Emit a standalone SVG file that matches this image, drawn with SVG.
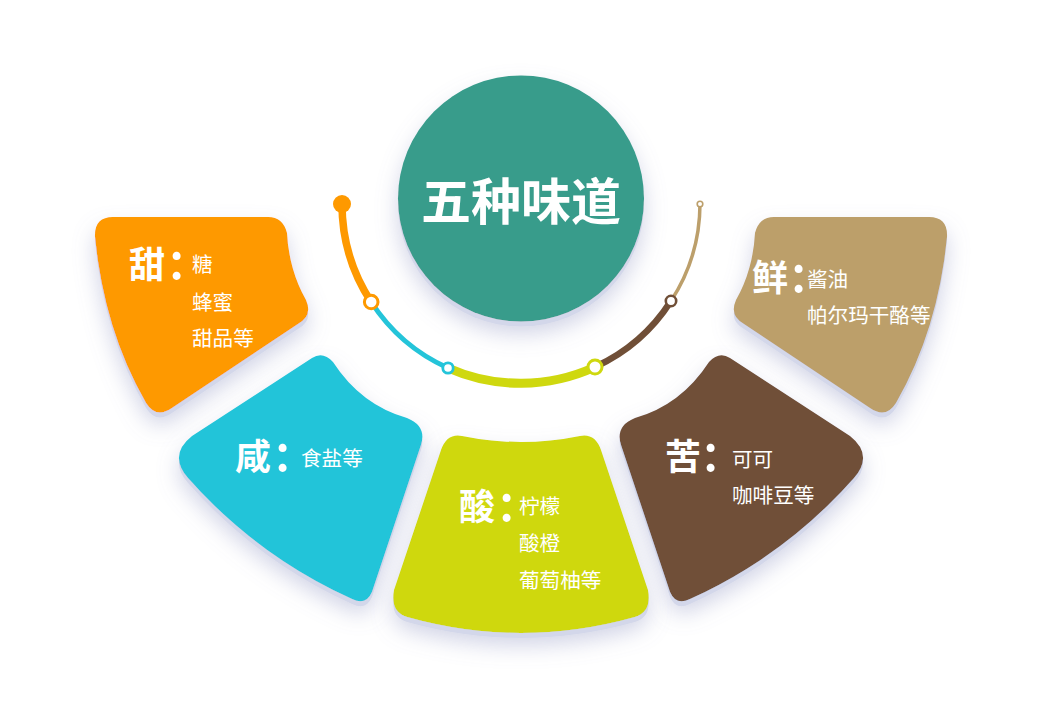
<svg xmlns="http://www.w3.org/2000/svg" width="1042" height="720" viewBox="0 0 1042 720">
<defs>
<filter id="sh" x="-30%" y="-30%" width="160%" height="170%">
<feGaussianBlur in="SourceAlpha" stdDeviation="11" result="b"/>
<feOffset in="b" dx="0" dy="12" result="bo"/>
<feFlood flood-color="#7d84b8" flood-opacity="0.36"/>
<feComposite in2="bo" operator="in" result="soft"/>
<feOffset in="SourceAlpha" dx="0" dy="4.5" result="r"/>
<feFlood flood-color="#d3d7ea"/>
<feComposite in2="r" operator="in" result="rim"/>
<feMerge><feMergeNode in="soft"/><feMergeNode in="rim"/><feMergeNode in="SourceGraphic"/></feMerge>
</filter>
<style>
text{font-family:"Noto Sans CJK SC",sans-serif;fill:#fff}
.big{font-size:36px;font-weight:bold}
.col{font-size:51px;font-weight:500}
.sm{font-size:20.6px;font-weight:normal}
.title{font-size:50px;font-weight:bold}
.ring{fill:#fff}
</style>
</defs>
<rect width="1042" height="720" fill="#fff"/>

<g id="node-sweet" filter="url(#sh)">
<path d="M113,217 L268,217 Q283,217 287,233 Q289,270 306,300 Q313,316 298,324 L172,408 Q156,419 146,403 Q104,330 95,237 Q94,217 113,217 Z" fill="#FE9900"/>
</g>
<g id="node-umami" filter="url(#sh)">
<path d="M929,217 L774,217 Q759,217 755,233 Q753,270 736,300 Q729,316 744,324 L870,408 Q886,419 896,403 Q938,330 947,237 Q948,217 929,217 Z" fill="#BC9F6B"/>
</g>
<g id="node-salty" filter="url(#sh)">
<path d="M333,362 Q361,405 407,418 Q427,426 421,445 L372,592 Q366,606 352,599 Q257,556 188,478 Q168,455 192,436 L312,358 Q323,351 333,362 Z" fill="#24C4D9"/>
</g>
<g id="node-bitter" filter="url(#sh)">
<path d="M709,362 Q681,405 635,418 Q615,426 621,445 L670,592 Q676,606 690,599 Q785,556 854,478 Q874,455 850,436 L730,358 Q719,351 709,362 Z" fill="#704F37"/>
</g>
<g id="node-sour" filter="url(#sh)">
<path d="M462,436 Q521,448 580,436 Q595,433 601,450 L648,590 Q652,612 635,617 Q521,649 407,617 Q390,612 394,590 L441,450 Q447,433 462,436 Z" fill="#CFD80F"/>
</g>

<g id="node-center">
<circle cx="521" cy="198.5" r="123" fill="#379C8B" filter="url(#sh)"/>
<text class="title" x="521" y="219.5" text-anchor="middle">五种味道</text>
</g>

<g id="connectors" fill="none">
<path d="M342,204 A179,179 0 0 0 371.2,302" stroke="#FE9900" stroke-width="7.5"/>
<path d="M371.2,302 A179,179 0 0 0 448,368" stroke="#24C4D9" stroke-width="5"/>
<path d="M448,368 A179,179 0 0 0 595,367" stroke="#CFD80F" stroke-width="9"/>
<path d="M595,367 A179,179 0 0 0 671,301" stroke="#704F37" stroke-width="6.5"/>
<path d="M671,301 A179,179 0 0 0 700,204" stroke="#BC9F6B" stroke-width="3.5"/>
<circle cx="342" cy="204" r="9" fill="#FE9900"/>
<circle class="ring" cx="371.2" cy="302" r="6.8" stroke="#FE9900" stroke-width="3"/>
<circle class="ring" cx="448" cy="368" r="5.2" stroke="#24C4D9" stroke-width="2.8"/>
<circle class="ring" cx="595" cy="367" r="7" stroke="#CFD80F" stroke-width="3"/>
<circle class="ring" cx="671" cy="301" r="5.2" stroke="#704F37" stroke-width="2.6"/>
<circle class="ring" cx="700" cy="204" r="2.8" stroke="#BC9F6B" stroke-width="1.6"/>
</g>

<g id="label-sweet">
<text class="big" x="129" y="277.5">甜</text>
<text class="col" x="169" y="278.5">:</text>
<text class="sm" x="192" y="271.5">糖</text>
<text class="sm" x="192" y="309.5">蜂蜜</text>
<text class="sm" x="192" y="345.5">甜品等</text>
</g>
<g id="label-salty">
<text class="big" x="235" y="469.5">咸</text>
<text class="col" x="275" y="470.5">:</text>
<text class="sm" x="301" y="465.5">食盐等</text>
</g>
<g id="label-sour">
<text class="big" x="459" y="519.5">酸</text>
<text class="col" x="499" y="520.5">:</text>
<text class="sm" x="519" y="513.5">柠檬</text>
<text class="sm" x="519" y="550.5">酸橙</text>
<text class="sm" x="519" y="587.5">葡萄柚等</text>
</g>
<g id="label-bitter">
<text class="big" x="665" y="469.5">苦</text>
<text class="col" x="703" y="470.5">:</text>
<text class="sm" x="732" y="466.5">可可</text>
<text class="sm" x="732" y="502.5">咖啡豆等</text>
</g>
<g id="label-umami">
<text class="big" x="752" y="290.5">鲜</text>
<text class="col" x="791" y="291.5">:</text>
<text class="sm" x="807" y="286.5">酱油</text>
<text class="sm" x="807" y="322.5">帕尔玛干酪等</text>
</g>
</svg>
